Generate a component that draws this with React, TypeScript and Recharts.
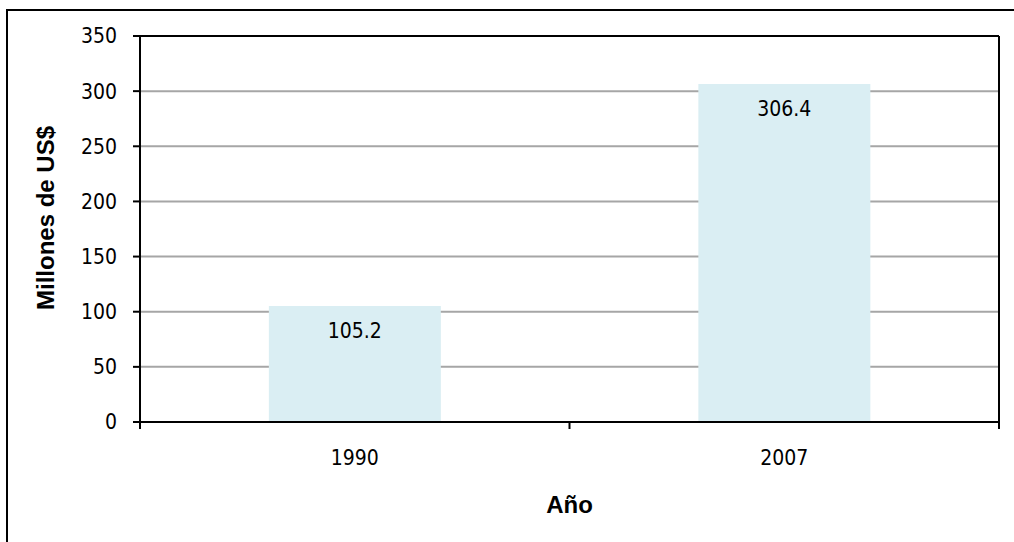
import React from 'react';
import { BarChart, Bar, XAxis, YAxis, CartesianGrid, ReferenceLine, LabelList } from 'recharts';

const years = ['1990', '2007'];
const values = [105.2, 306.4];
const yTicks = [0, 50, 100, 150, 200, 250, 300, 350];

const data = years.map((year, i) => ({ year, value: values[i] }));

const tickFont = '"DejaVu Sans Condensed", "DejaVu Sans", sans-serif';
const titleFont = '"Liberation Sans", Arial, sans-serif';

const XTick = (props: any) => {
  const { x, y, payload, index, visibleTicksCount } = props;
  const half = payload?.offset ?? 0;
  const isLast = index === (visibleTicksCount ?? years.length) - 1;
  return (
    <g>
      <line x1={x - half} x2={x - half} y1={y} y2={y + 7} stroke="#000" strokeWidth={2} />
      {isLast && <line x1={x + half} x2={x + half} y1={y} y2={y + 7} stroke="#000" strokeWidth={2} />}
      <text
        x={x}
        y={y + 36}
        textAnchor="middle"
        dominantBaseline="central"
        fontFamily={tickFont}
        fontSize={21}
        fill="#000"
      >
        {payload.value}
      </text>
    </g>
  );
};

export default function App() {
  return (
    <div
      style={{
        position: 'absolute',
        left: 0,
        top: 0,
        width: 1014,
        height: 542,
        overflow: 'hidden',
        background: '#fff',
      }}
    >
      <div
        style={{
          position: 'absolute',
          left: 6,
          top: 9,
          width: 1100,
          height: 600,
          borderLeft: '2px solid #000',
          borderTop: '2px solid #000',
        }}
      />
      <div style={{ position: 'absolute', left: 0, top: 0 }}>
        <BarChart
          width={1014}
          height={542}
          data={data}
          margin={{ top: 36, right: 0, bottom: 0, left: 80 }}
          barCategoryGap="30%"
        >
          <CartesianGrid yAxisId="l" vertical={false} stroke="#a6a6a6" strokeWidth={2} />
          <XAxis
            dataKey="year"
            height={120}
            tickLine={false}
            tickSize={0}
            tickMargin={0}
            axisLine={{ stroke: '#000', strokeWidth: 2 }}
            tick={<XTick />}
            label={{
              content: (p: any) => {
                const vb = p.viewBox;
                return (
                  <text
                    x={vb.x + vb.width / 2}
                    y={vb.y + 82}
                    textAnchor="middle"
                    dominantBaseline="central"
                    fontFamily={titleFont}
                    fontWeight="bold"
                    fontSize={24}
                    fill="#000"
                  >
                    Año
                  </text>
                );
              },
            }}
          />
          <YAxis
            yAxisId="l"
            width={60}
            domain={[0, 350]}
            ticks={yTicks}
            interval={0}
            tickSize={7}
            tickMargin={16}
            tickLine={{ stroke: '#000', strokeWidth: 2 }}
            axisLine={{ stroke: '#000', strokeWidth: 2 }}
            tick={{ fontFamily: tickFont, fontSize: 21, fill: '#000' }}
            label={{
              content: (p: any) => {
                const vb = p.viewBox;
                const cx = vb.x - 35;
                const cy = vb.y + vb.height / 2 - 11;
                return (
                  <text
                    x={cx}
                    y={cy}
                    transform={`rotate(-90 ${cx} ${cy})`}
                    textAnchor="middle"
                    dominantBaseline="central"
                    fontFamily={titleFont}
                    fontWeight="bold"
                    fontSize={24}
                    fill="#000"
                  >
                    Millones de US$
                  </text>
                );
              },
            }}
          />
          <YAxis
            yAxisId="r"
            orientation="right"
            width={15}
            domain={[0, 350]}
            tick={false}
            tickLine={false}
            axisLine={{ stroke: '#000', strokeWidth: 2 }}
          />
          <ReferenceLine yAxisId="l" y={350} stroke="#000" strokeWidth={2} />
          <Bar yAxisId="l" dataKey="value" fill="#DAEEF3" isAnimationActive={false}>
            <LabelList
              dataKey="value"
              position="insideTop"
              offset={17}
              fontFamily={tickFont}
              fontSize={21}
              fill="#000"
              formatter={(v: any) => Number(v).toFixed(1)}
            />
          </Bar>
        </BarChart>
      </div>
    </div>
  );
}
